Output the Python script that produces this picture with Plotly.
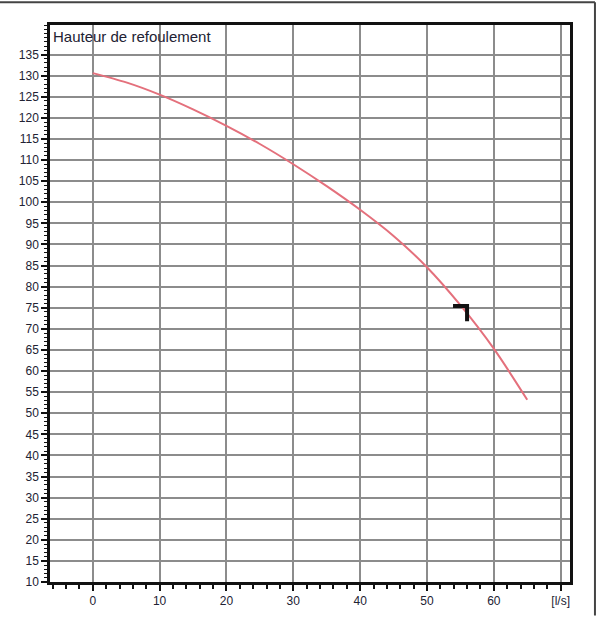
import plotly.graph_objects as go

# Pump curve data (flow [l/s] vs head)
flow = [0, 5, 10, 15, 20, 25, 30, 35, 40, 45, 50, 55, 60, 65]
head = [130.6, 128.4, 125.5, 122.0, 118.1, 113.8, 109.0, 103.8, 98.2, 92.0, 84.6, 75.6, 65.3, 53.2]

# Duty point marker (bracket shape)
duty_q = [53.9, 56.0, 56.0]
duty_h = [75.4, 75.4, 71.8]

x_tickvals = [0, 10, 20, 30, 40, 50, 60, 70]
x_ticktext = ["0", "10", "20", "30", "40", "50", "60", "[l/s]"]
y_tickvals = list(range(10, 140, 5))
y_ticktext = [str(v) for v in y_tickvals]

title_text = "Hauteur de refoulement"

fig = go.Figure()
fig.add_trace(go.Scatter(x=flow, y=head, mode="lines", line=dict(color="#e4707c", width=2, shape="spline", smoothing=0.8),
                         hoverinfo="skip", showlegend=False))
fig.add_trace(go.Scatter(x=duty_q, y=duty_h, mode="lines", line=dict(color="#111111", width=4),
                         hoverinfo="skip", showlegend=False))

font = dict(family="Liberation Sans, Arial, sans-serif", size=12, color="#222233")

fig.update_layout(
    width=597, height=620,
    margin=dict(l=50, r=27, t=25, b=30),
    paper_bgcolor="white", plot_bgcolor="white",
    font=font,
    showlegend=False,
    xaxis=dict(
        range=[-6.4, 71.4], tickmode="array", tickvals=x_tickvals, ticktext=x_ticktext,
        showgrid=True, gridcolor="#8c8c8c", gridwidth=2,
        showline=True, linecolor="#111111", linewidth=2.5, mirror=True,
        ticks="outside", ticklen=6, tickwidth=2, tickcolor="#111111",
        minor=dict(dtick=2, tick0=0, ticks="outside", ticklen=4, tickwidth=2, tickcolor="#111111", showgrid=False),
        zeroline=False, tickfont=font,
    ),
    yaxis=dict(
        range=[10, 142], tickmode="array", tickvals=y_tickvals, ticktext=y_ticktext,
        showgrid=True, gridcolor="#8c8c8c", gridwidth=2,
        showline=True, linecolor="#111111", linewidth=2.5, mirror=True,
        ticks="outside", ticklen=6, tickwidth=1.5, tickcolor="#111111",
        minor=dict(dtick=1, tick0=0, ticks="outside", ticklen=3, tickwidth=1, tickcolor="#111111", showgrid=False),
        zeroline=False, tickfont=font,
    ),
    annotations=[dict(
        text=title_text, xref="paper", yref="paper", x=0.002, y=0.998,
        xanchor="left", yanchor="top", showarrow=False,
        font=dict(family="Liberation Sans, Arial, sans-serif", size=15, color="#222233"),
    )],
    shapes=[
        dict(type="line", xref="paper", yref="paper", x0=-0.2, x1=1.048, y0=1.0407, y1=1.0407,
             line=dict(color="#444444", width=2)),
        dict(type="line", xref="paper", yref="paper", x0=1.048, x1=1.048, y0=1.0407, y1=-0.06,
             line=dict(color="#444444", width=2)),
    ],
)

fig.write_html("out.html")
